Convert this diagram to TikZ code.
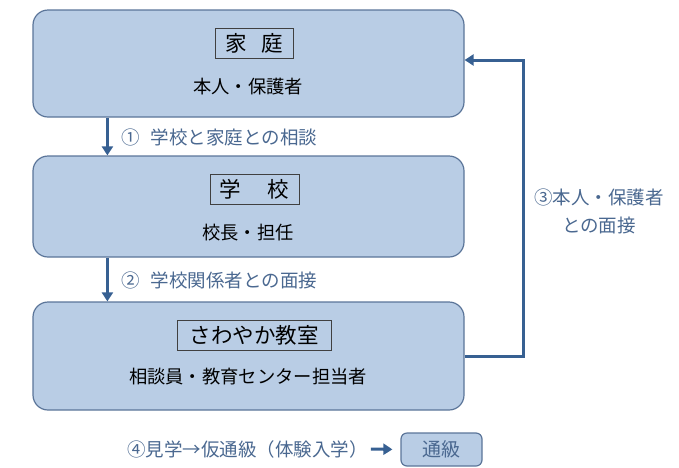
\documentclass[tikz,border=0pt]{standalone}
\usepackage{fontspec}
\setmainfont{Noto Sans CJK JP}
\usetikzlibrary{arrows.meta}
\definecolor{boxfill}{HTML}{B9CDE5}
\definecolor{boxline}{HTML}{5B7599}
\definecolor{arrowblue}{HTML}{376092}
\definecolor{labelblue}{HTML}{4A6890}

\begin{document}
\begin{tikzpicture}[x=1pt,y=-1pt,
	bigbox/.style={draw=boxline,line width=1.2pt,fill=boxfill,rounded corners=15pt,minimum width=431pt,inner sep=0pt},
	titlebox/.style={draw=black!75,line width=0.9pt,minimum height=30pt,inner sep=0pt,font=\fontsize{21.5}{24}\selectfont},
	body/.style={inner sep=0pt,font=\fontsize{18.3}{21}\selectfont},
	lbl/.style={inner sep=0pt,text=labelblue,font=\fontsize{18.5}{28}\selectfont},
	arr/.style={draw=arrowblue,line width=3pt,-{Triangle[length=9pt,width=11pt]}}]
\useasboundingbox (0,0) rectangle (679,467);
\node[bigbox,minimum height=107pt] (home) at (248.5,63.5) {};
\node[bigbox,minimum height=101pt] (school) at (248.5,206.5) {};
\node[bigbox,minimum height=108pt] (room) at (248.5,356) {};
\node[titlebox,minimum width=78pt] (hometitle) at (254,43) {家\hspace{14pt}庭};
\node[body] (homebody) at (248,87) {本人・保護者};
\node[titlebox,minimum width=89pt] (schooltitle) at (254.5,189.5) {学\hspace{27pt}校};
\node[body] (schoolbody) at (248,233) {校長・担任};
\node[titlebox,minimum width=154pt] (roomtitle) at (254,335.5) {さわやか教室};
\node[body] (roombody) at (248,377) {相談員・教育センター担当者};
\draw[arr] ([xshift=75pt]home.south west) -- ([xshift=75pt]school.north west);
\node[lbl,anchor=west] (step1) at (121,137) {①\hspace{11pt}学校と家庭との相談};
\draw[arr] ([xshift=75pt]school.south west) -- ([xshift=75pt]room.north west);
\node[lbl,anchor=west] (step2) at (121,280) {②\hspace{11pt}学校関係者との面接};
\coordinate (corner) at (523,60);
\draw[arr] (room.east) -| (corner) -- (home.east |- corner);
\node[lbl,align=center] (step3) at (599,211) {③本人・保護者\\との面接};
\node[lbl,anchor=west] (step4) at (127,449) {④見学→仮通級（体験入学）};
\node[draw=boxline,line width=1.2pt,fill=boxfill,rounded corners=6pt,minimum width=81pt,minimum height=33pt,inner sep=0pt,text=labelblue,font=\fontsize{19}{22}\selectfont] (class) at (441.5,449.5) {通級};
\draw[arr,shorten <=3pt,shorten >=8pt] (step4.east) -- (class.west);
\end{tikzpicture}
\end{document}
